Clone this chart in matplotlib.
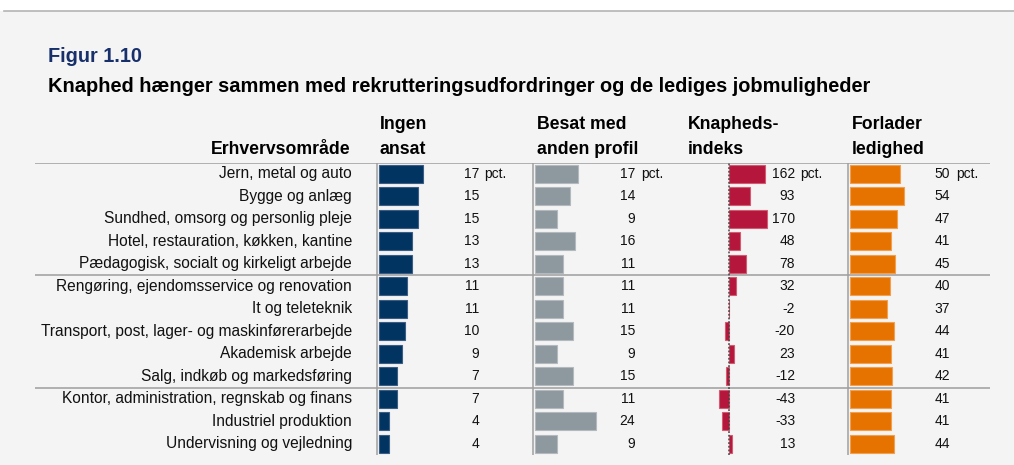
import matplotlib.pyplot as plt
from matplotlib.patches import Rectangle
from matplotlib.lines import Line2D

plt.rcParams['font.family'] = ['Liberation Sans', 'DejaVu Sans']

W, H = 1014, 465

categories = ['Jern, metal og auto', 'Bygge og anlæg', 'Sundhed, omsorg og personlig pleje',
              'Hotel, restauration, køkken, kantine', 'Pædagogisk, socialt og kirkeligt arbejde',
              'Rengøring, ejendomsservice og renovation', 'It og teleteknik',
              'Transport, post, lager- og maskinførerarbejde', 'Akademisk arbejde',
              'Salg, indkøb og markedsføring', 'Kontor, administration, regnskab og finans',
              'Industriel produktion', 'Undervisning og vejledning']
ingen = [17, 15, 15, 13, 13, 11, 11, 10, 9, 7, 7, 4, 4]
besat = [17, 14, 9, 16, 11, 11, 11, 15, 9, 15, 11, 24, 9]
knaphed = [162, 93, 170, 48, 78, 32, -2, -20, 23, -12, -43, -33, 13]
forlader = [50, 54, 47, 41, 45, 40, 37, 44, 41, 42, 41, 41, 44]
headers = [('Ingen', 'ansat'), ('Besat med', 'anden profil'), ('Knapheds-', 'indeks'), ('Forlader', 'ledighed')]

BG = '#f4f4f4'
NAVY = '#17306b'

fig = plt.figure(figsize=(W / 100, H / 100), dpi=100, facecolor=BG)

def fx(x):
    return x / W

def fy(y):
    return 1 - y / H

# white strip and line at the top
fig.patches.append(Rectangle((0, fy(11.5)), 1, 11.5 / H, transform=fig.transFigure,
                             facecolor='white', edgecolor='none', zorder=0))
fig.lines.append(Line2D([fx(4), 1], [fy(11.5), fy(11.5)], transform=fig.transFigure,
                        color='#b4b4b4', lw=1.2))

fig.text(fx(48), fy(62), 'Figur 1.10', fontsize=14.3, fontweight='bold', color=NAVY, va='baseline')
fig.text(fx(48), fy(92), 'Knaphed hænger sammen med rekrutteringsudfordringer og de lediges jobmuligheder',
         fontsize=14.4, fontweight='bold', color='black', va='baseline')

TOP, BOT = 162.75, 455
n = len(categories)
ylim = (12.49, -0.5)

def add_ax(left, right):
    ax = fig.add_axes([fx(left), fy(BOT), (right - left) / W, (BOT - TOP) / H])
    ax.set_facecolor('none')
    ax.set_ylim(*ylim)
    ax.axis('off')
    return ax

# background axes in pixel units for separators and labels
ax_bg = add_ax(0, W)
ax_bg.set_xlim(0, W)
for y in [-0.5, 4.5, 9.5]:
    ax_bg.plot([35, 990], [y, y], color='#aaaaaa', lw=1.3, solid_capstyle='butt')
for i, c in enumerate(categories):
    ax_bg.text(352, i, c, ha='right', va='center', fontsize=11.2, color='#111111')

fig.text(fx(351), fy(154), 'Erhvervsområde', ha='right', va='baseline', fontsize=12.7, fontweight='bold')

# panel: values, colour, edge colour, zero px, px per unit, number right px, pct px, header px, line style
panels = [
    (ingen, '#023462', '#3a5d85', 378.5, 2.6, 479, 484, 380, '-'),
    (besat, '#8e989f', '#b3babf', 534.5, 2.55, 635, 641, 537, '-'),
    (knaphed, '#b5163b', '#d45a73', 729, 0.224, 795, 800, 688, ':'),
    (forlader, '#e67300', '#f2a050', 849.5, 1.0, 950, 956, 852, '-'),
]

rows = list(range(n))
for k, (vals, col, edge, zero, scale, num_x, pct_x, head_x, ls) in enumerate(panels):
    left, right = zero - 40, zero + 120
    ax = add_ax(left, right)
    ax.set_xlim((left - zero) / scale, (right - zero) / scale)
    ax.barh(rows, vals, height=0.8, color=col, edgecolor=edge, linewidth=0.8, zorder=2)
    if ls == ':':
        ax.axvline(0, color='#444444', lw=1.1, ls=(0, (1.2, 1.2)), zorder=3)
    else:
        ax.axvline(-1.2 / scale, color='#a0a0a0', lw=1.1, zorder=1)
    for i, v in enumerate(vals):
        ax.text((num_x - zero) / scale, i, str(v), ha='right', va='center', fontsize=10, color='#111111')
    ax.text((pct_x - zero) / scale, 0, 'pct.', ha='left', va='center', fontsize=10, color='#111111')
    fig.text(fx(head_x), fy(129), headers[k][0], ha='left', va='baseline', fontsize=12.7, fontweight='bold')
    fig.text(fx(head_x), fy(154), headers[k][1], ha='left', va='baseline', fontsize=12.7, fontweight='bold')

fig.savefig('out.png', dpi=100, facecolor=BG)
